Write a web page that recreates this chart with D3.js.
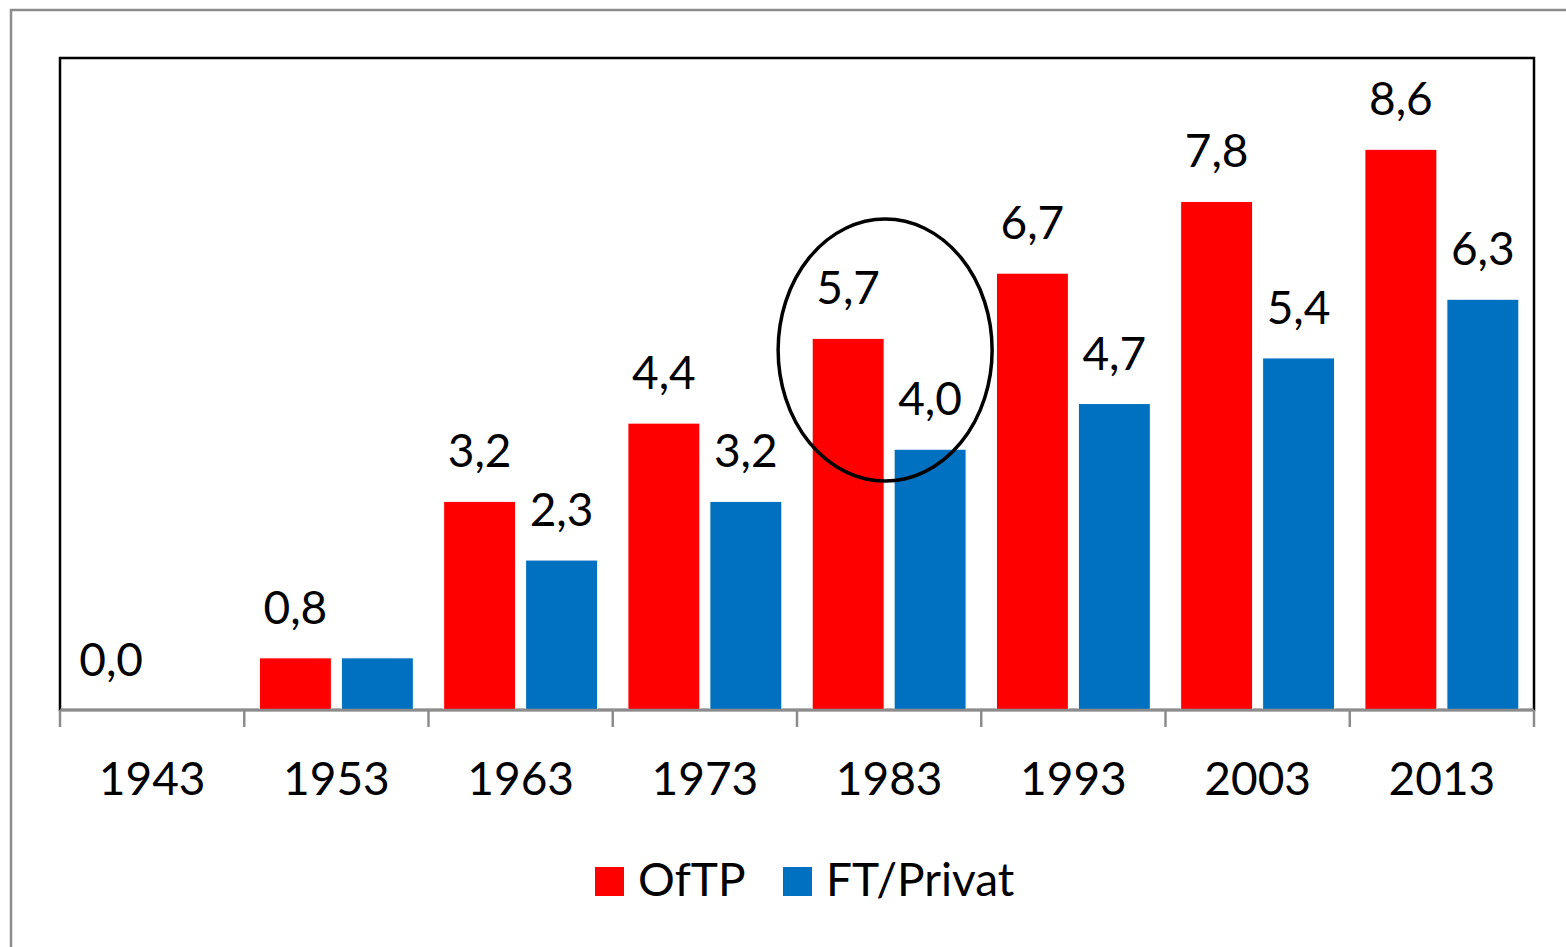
<!DOCTYPE html>
<head>
  <meta charset="utf-8">
  <script src="https://d3js.org/d3.v7.min.js"></script>
  <style>
    body { margin:0; background:#fff; }
    text { font-family: 'Lato', 'Open Sans', sans-serif; fill: #000; }
    .bar-label { font-size: 46px; text-anchor: middle; }
    .x-axis text { font-size: 46px; }
    .x-axis path, .x-axis line { stroke: #8c8c8c; stroke-width: 2.5; }
    .legend text { font-size: 46px; }
  </style>
</head>
<body>
  <script>
    // data
    var years = ["1943", "1953", "1963", "1973", "1983", "1993", "2003", "2013"];
    var series = ["OfTP", "FT/Privat"];
    var oftp = [0.0, 0.8, 3.2, 4.4, 5.7, 6.7, 7.8, 8.6];
    var ftPrivat = [0.0, 0.8, 2.3, 3.2, 4.0, 4.7, 5.4, 6.3];
    // labels the original leaves out
    var hiddenLabels = ["FT/Privat-1943", "FT/Privat-1953"];
    var colours = ["#ff0000", "#0070c0"];
    var highlightYear = "1983";

    var W = 1566, H = 947;
    var plot = {left: 60, top: 58, right: 1534, bottom: 710};

    var svg = d3.select("body").append("svg")
        .attr("width", W)
        .attr("height", H);

    // outer chart frame (runs off the right/bottom edge)
    svg.append("rect")
      .attr("x", 11).attr("y", 10)
      .attr("width", 1700).attr("height", 1100)
      .attr("fill", "none")
      .attr("stroke", "#8c8c8c")
      .attr("stroke-width", 2.5);

    var x0 = d3.scaleBand()
      .domain(years)
      .range([plot.left, plot.right]);

    var x1 = d3.scaleBand()
      .domain(series)
      .range([0, x0.bandwidth()])
      .paddingInner(0.122)
      .paddingOuter(0.185);

    var y = d3.scaleLinear()
      .domain([0, 10])
      .range([plot.bottom, plot.top]);

    var colour = d3.scaleOrdinal().domain(series).range(colours);

    var rows = [];
    years.forEach((yr, i) => {
      rows.push({year: yr, s: "OfTP", v: oftp[i]});
      rows.push({year: yr, s: "FT/Privat", v: ftPrivat[i]});
    });

    // plot area border
    svg.append("rect")
      .attr("x", plot.left).attr("y", plot.top)
      .attr("width", plot.right - plot.left)
      .attr("height", plot.bottom - plot.top)
      .attr("fill", "none")
      .attr("stroke", "#000")
      .attr("stroke-width", 2.5);

    svg.append("g")
      .selectAll("rect")
      .data(rows.filter(d => d.v > 0))
      .enter().append("rect")
        .attr("x", d => x0(d.year) + x1(d.s))
        .attr("y", d => y(d.v))
        .attr("width", x1.bandwidth())
        .attr("height", d => y(0) - y(d.v))
        .attr("fill", d => colour(d.s))
        .attr("stroke", "#fff")
        .attr("stroke-width", 1);

    svg.append("g")
      .selectAll("text")
      .data(rows.filter(d => hiddenLabels.indexOf(d.s + "-" + d.year) < 0))
      .enter().append("text")
        .attr("class", "bar-label")
        .attr("x", d => x0(d.year) + x1(d.s) + x1.bandwidth() / 2)
        .attr("y", d => y(d.v) - 34)
        .text(d => d3.format(".1f")(d.v).replace(".", ","));

    // x axis with ticks between the groups
    var xAxis = d3.axisBottom(x0).tickSize(0).tickPadding(52);
    var axisG = svg.append("g")
      .attr("class", "x-axis")
      .attr("transform", "translate(0," + plot.bottom + ")")
      .call(xAxis);
    axisG.select(".domain").attr("d", "M" + plot.left + ",0H" + plot.right);
    axisG.selectAll(".tick text").attr("dy", 0).attr("y", 85);
    axisG.append("g").selectAll("line")
      .data(years.map(yr => x0(yr)).concat([plot.right]))
      .enter().append("line")
        .attr("x1", d => d).attr("x2", d => d)
        .attr("y1", 0).attr("y2", 17);

    // ellipse around the 1983 pair
    svg.append("ellipse")
      .attr("cx", x0(highlightYear) + x0.bandwidth() / 2 - 4)
      .attr("cy", y(5.52))
      .attr("rx", 107)
      .attr("ry", 131)
      .attr("fill", "none")
      .attr("stroke", "#000")
      .attr("stroke-width", 3.5);

    // legend
    var legend = svg.append("g").attr("class", "legend");
    var legendX = [595, 783];
    series.forEach((s, i) => {
      legend.append("rect")
        .attr("x", legendX[i]).attr("y", 867)
        .attr("width", 29).attr("height", 29)
        .attr("fill", colour(s));
      legend.append("text")
        .attr("x", legendX[i] + 43)
        .attr("y", 896)
        .text(s);
    });
  </script>
</body>
